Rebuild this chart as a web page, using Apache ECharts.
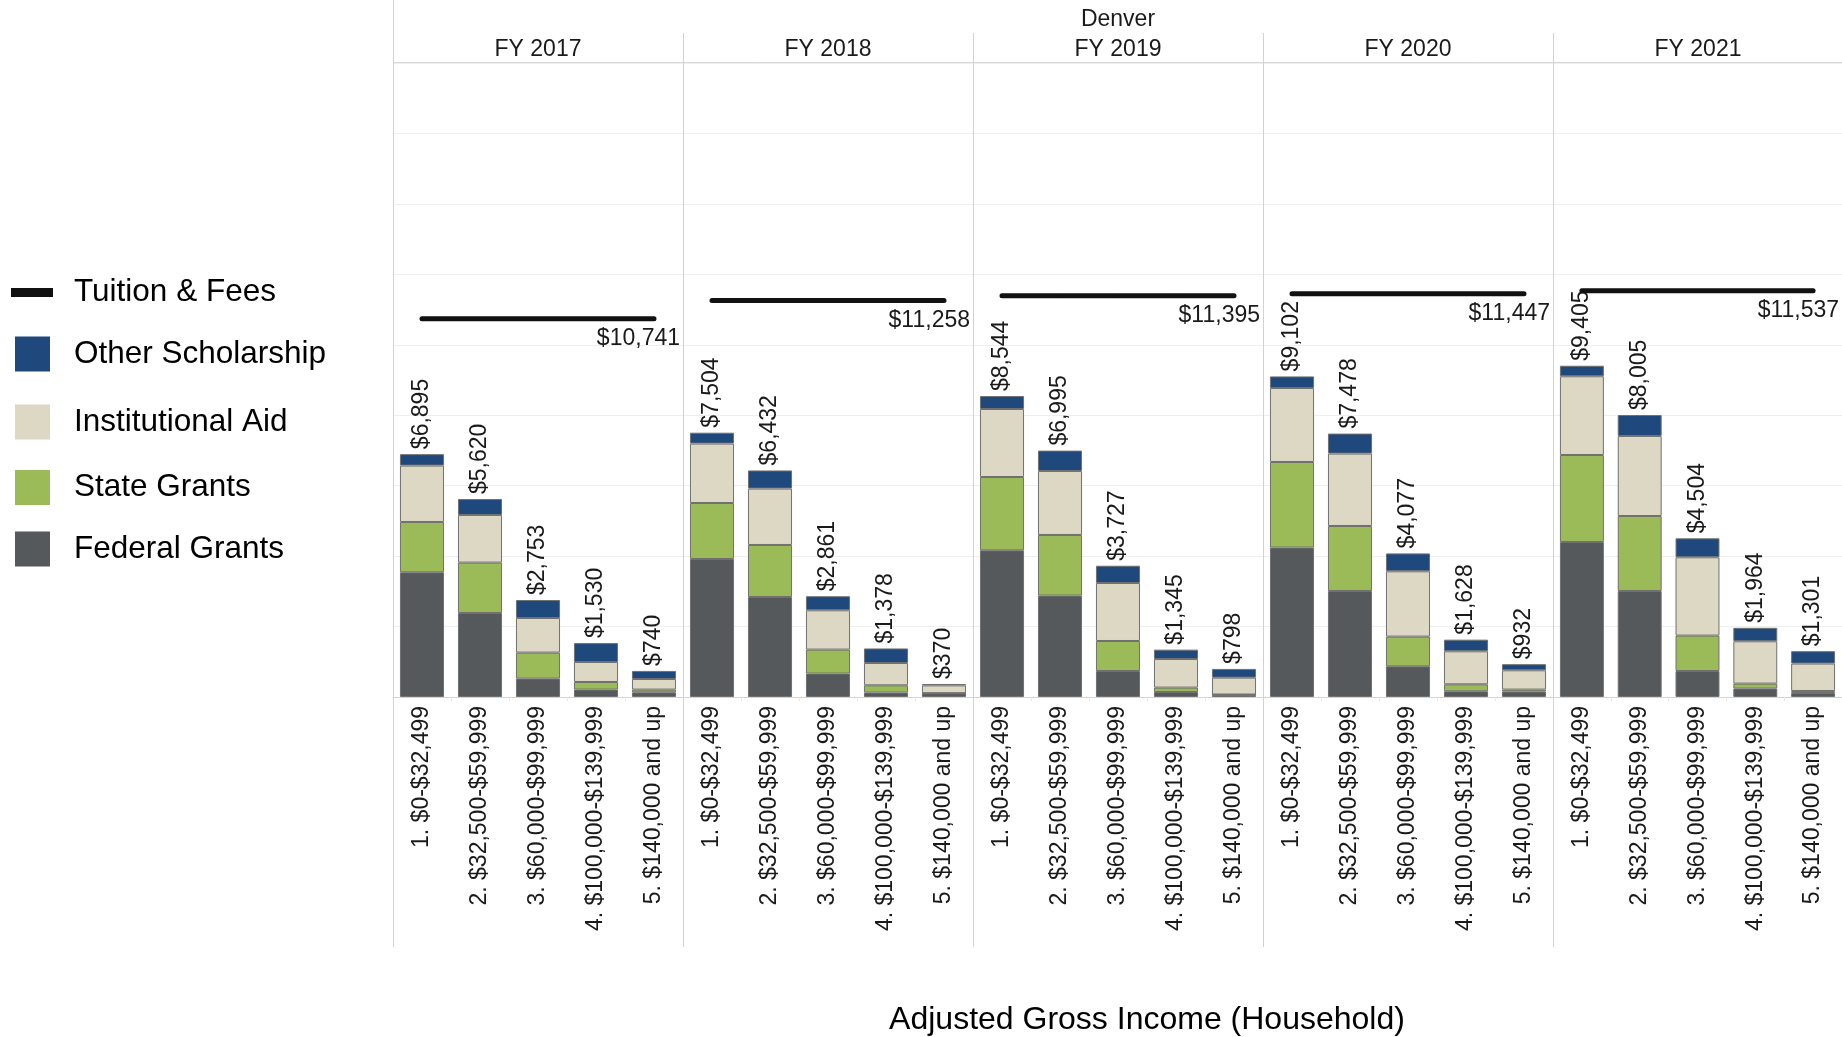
<!DOCTYPE html>
<html>
<head>
<meta charset="utf-8">
<script src="https://cdn.jsdelivr.net/npm/echarts@6/dist/echarts.min.js"></script>
<style>
html,body{margin:0;padding:0;background:#fff;}
#chart{width:1842px;height:1037px;}
</style>
</head>
<body>
<div id="chart"></div>
<script>
// ---- data ----
const location_ = 'Denver';
const years = ['FY 2017', 'FY 2018', 'FY 2019', 'FY 2020', 'FY 2021'];
const brackets = ['1. $0-$32,499', '2. $32,500-$59,999', '3. $60,000-$99,999', '4. $100,000-$139,999', '5. $140,000 and up'];
const tuitionFees = [10741, 11258, 11395, 11447, 11537];
// one row per fiscal year, one value per income bracket
const federalGrants = [
  [3541, 2385, 522, 210, 133],
  [3918, 2839, 664, 125, 105],
  [4165, 2879, 738, 142, 60],
  [4242, 3010, 872, 162, 153],
  [4401, 3010, 738, 238, 114]
];
const stateGrants = [
  [1428, 1431, 739, 216, 77],
  [1590, 1477, 682, 207, 5],
  [2081, 1721, 852, 125, 10],
  [2430, 1845, 843, 199, 57],
  [2470, 2129, 1005, 142, 57]
];
const institutionalAid = [
  [1601, 1352, 982, 568, 301],
  [1687, 1601, 1116, 633, 220],
  [1931, 1817, 1647, 812, 480],
  [2101, 2056, 1854, 937, 548],
  [2235, 2272, 2224, 1202, 778]
];
const otherScholarship = [
  [325, 452, 510, 536, 229],
  [309, 515, 399, 413, 40],
  [367, 578, 490, 266, 248],
  [329, 567, 508, 330, 174],
  [299, 594, 537, 382, 352]
];
const legendNames = ['Tuition & Fees', 'Other Scholarship', 'Institutional Aid', 'State Grants', 'Federal Grants'];
const xAxisTitle = 'Adjusted Gross Income (Household)';

// ---- layout / style ----
const FONT = '"Liberation Sans", Arial, sans-serif';
const PLOT_LEFT = 393, PANEL_W = 290, PLOT_TOP = 63, PLOT_H = 634;
const colors = {
  federal: '#55595c',
  state: '#9bbb59',
  inst: '#ddd8c3',
  other: '#1f497d',
  tuition: '#111111'
};

const fmt = v => '$' + v.toLocaleString('en-US');

const grids = [], xAxes = [], yAxes = [], series = [], graphics = [];

years.forEach((yr, i) => {
  const left = PLOT_LEFT + i * PANEL_W;
  grids.push({ left: left, top: PLOT_TOP, width: PANEL_W, height: PLOT_H, containLabel: false });
  xAxes.push({
    type: 'category', gridIndex: i, data: brackets,
    axisLine: { lineStyle: { color: '#d4d4d4', width: 1 } },
    axisTick: { show: true, length: 4, lineStyle: { color: '#e6e6e6' } },
    axisLabel: { rotate: 90, interval: 0, fontSize: 23, color: '#1a1a1a', margin: 9, fontFamily: FONT }
  });
  yAxes.push({
    type: 'value', gridIndex: i, min: 0, max: 18000, interval: 2000,
    axisLabel: { show: false }, axisLine: { show: false }, axisTick: { show: false },
    splitLine: { lineStyle: { color: '#efefef', width: 1 } }
  });
  const barBase = {
    type: 'bar', xAxisIndex: i, yAxisIndex: i, stack: 'aid' + i,
    barCategoryGap: '24%',
    itemStyle: { borderColor: '#707070', borderWidth: 1 }
  };
  series.push(Object.assign({}, barBase, { name: 'Federal Grants', data: federalGrants[i], itemStyle: Object.assign({}, barBase.itemStyle, { color: colors.federal }) }));
  series.push(Object.assign({}, barBase, { name: 'State Grants', data: stateGrants[i], itemStyle: Object.assign({}, barBase.itemStyle, { color: colors.state }) }));
  series.push(Object.assign({}, barBase, { name: 'Institutional Aid', data: institutionalAid[i], itemStyle: Object.assign({}, barBase.itemStyle, { color: colors.inst }) }));
  series.push(Object.assign({}, barBase, {
    name: 'Other Scholarship', data: otherScholarship[i],
    itemStyle: Object.assign({}, barBase.itemStyle, { color: colors.other }),
    label: {
      show: true, position: 'top', rotate: 90, align: 'left', verticalAlign: 'middle', distance: 5,
      fontSize: 23, color: '#1a1a1a', fontFamily: FONT,
      formatter: p => fmt(federalGrants[i][p.dataIndex] + stateGrants[i][p.dataIndex] + institutionalAid[i][p.dataIndex] + otherScholarship[i][p.dataIndex])
    }
  }));
  const t = tuitionFees[i];
  const lineData = brackets.map((b, j) => j === brackets.length - 1
    ? { value: t, label: { show: true, position: 'bottom', align: 'right', distance: 8, offset: [26, 0], fontSize: 23, color: '#1a1a1a', fontFamily: FONT, formatter: () => fmt(t) } }
    : t);
  series.push({
    type: 'line', name: 'Tuition & Fees', xAxisIndex: i, yAxisIndex: i,
    data: lineData, symbol: 'circle', symbolSize: 1, showSymbol: true,
    color: colors.tuition,
    itemStyle: { color: colors.tuition },
    lineStyle: { color: colors.tuition, width: 5, cap: 'round' },
    z: 5
  });
  // panel dividers
  graphics.push({ type: 'line', shape: { x1: left + 0.5, y1: i === 0 ? 0 : 33, x2: left + 0.5, y2: 947 }, style: { stroke: '#d2d2d2', lineWidth: 1 }, z: 1 });
  graphics.push({ type: 'text', style: { text: yr, x: left + PANEL_W / 2, y: 49.5, textAlign: 'center', textVerticalAlign: 'middle', fontSize: 23, fontFamily: FONT, fill: '#1a1a1a' } });
});
graphics.push({ type: 'line', shape: { x1: PLOT_LEFT, y1: PLOT_TOP - 0.5, x2: 1842, y2: PLOT_TOP - 0.5 }, style: { stroke: '#d6d6d6', lineWidth: 1 }, z: 1 });
graphics.push({ type: 'text', style: { text: location_, x: 1118, y: 20, textAlign: 'center', textVerticalAlign: 'middle', fontSize: 23, fontFamily: FONT, fill: '#1a1a1a' } });
graphics.push({ type: 'text', style: { text: xAxisTitle, x: 1147, y: 1020, textAlign: 'center', textVerticalAlign: 'middle', fontSize: 32, fontFamily: FONT, fill: '#000' } });

// legend: one component per entry so each row sits where the reference puts it
const legendCenters = [292.5, 354, 422, 487.5, 549];
const legends = legendNames.map((name, k) => {
  const isLine = k === 0;
  const h = isLine ? 9 : 35;
  const bboxHalf = Math.max(h, 32) / 2;
  return {
    orient: 'vertical', left: isLine ? 11 : 15, top: legendCenters[k] - bboxHalf, padding: 0,
    itemWidth: isLine ? 42 : 35, itemHeight: h,
    data: [{ name: name, icon: 'rect' }],
    itemStyle: { borderWidth: 0 },
    textStyle: { fontSize: 31.5, color: '#000', fontFamily: FONT, padding: [0, 0, 0, isLine ? 16 : 19] },
    selectedMode: false
  };
});

const option = {
  backgroundColor: '#ffffff',
  animation: false,
  grid: grids,
  xAxis: xAxes,
  yAxis: yAxes,
  legend: legends,
  graphic: graphics,
  series: series
};

const chart = echarts.init(document.getElementById('chart'), null, { renderer: 'canvas' });
chart.setOption(option);
</script>
</body>
</html>
